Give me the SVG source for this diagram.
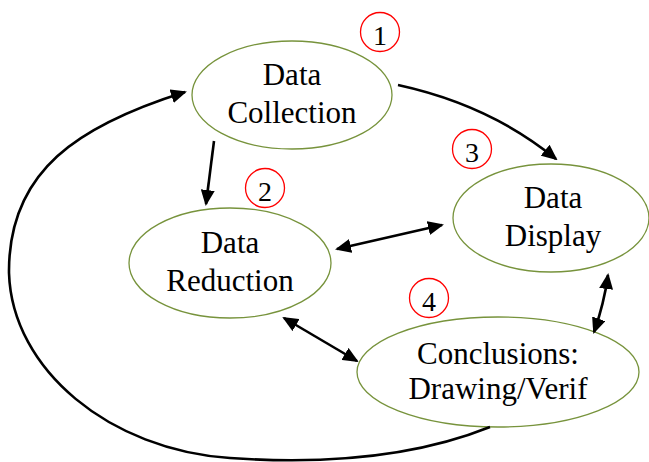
<svg xmlns="http://www.w3.org/2000/svg" width="649" height="462" viewBox="0 0 649 462">
<style>
.node ellipse{fill:#ffffff;stroke:#77933C;stroke-width:1.3}
.lbl{font-family:"Liberation Serif","Times New Roman",serif;font-size:31px;fill:#000;text-anchor:middle}
.num circle{fill:none;stroke:#FF0000;stroke-width:1.3}
.num text{font-family:"Liberation Serif","Times New Roman",serif;font-size:28px;fill:#000;text-anchor:middle}
.conn path{fill:none;stroke:#000;stroke-width:2.6}
</style>
<defs>
<marker id="ah" markerUnits="userSpaceOnUse" markerWidth="16" markerHeight="14" viewBox="0 0 16 14" refX="14" refY="7" orient="auto-start-reverse">
<path d="M0,0 L16,7 L0,14 z" fill="#000"/>
</marker>
</defs>
<rect width="649" height="462" fill="#ffffff"/>
<g id="n1" class="node">
<ellipse cx="292" cy="95" rx="100" ry="54"/>
<text class="lbl" x="292" y="85">Data</text>
<text class="lbl" x="292" y="123">Collection</text>
</g>
<g id="n2" class="node">
<ellipse cx="230" cy="263" rx="101" ry="55"/>
<text class="lbl" x="230" y="253">Data</text>
<text class="lbl" x="230" y="291">Reduction</text>
</g>
<g id="n3" class="node">
<ellipse cx="551" cy="218" rx="98" ry="54"/>
<text class="lbl" x="553" y="208">Data</text>
<text class="lbl" x="553" y="246">Display</text>
</g>
<g id="n4" class="node">
<ellipse cx="498" cy="372" rx="141" ry="55"/>
<text class="lbl" x="498" y="364">Conclusions:</text>
<text class="lbl" x="498" y="399">Drawing/Verif</text>
</g>
<g id="b1" class="num"><circle cx="380" cy="32" r="19.5"/><text x="380" y="45">1</text></g>
<g id="b2" class="num"><circle cx="265" cy="188" r="19.5"/><text x="265" y="201">2</text></g>
<g id="b3" class="num"><circle cx="472" cy="149" r="19.5"/><text x="472" y="162">3</text></g>
<g id="b4" class="num"><circle cx="429" cy="298" r="19.5"/><text x="429" y="311">4</text></g>
<g id="connectors" class="conn">
<path d="M398,85 Q490,105 556,159" marker-end="url(#ah)"/>
<path d="M214,141 L206,204" marker-end="url(#ah)"/>
<path d="M337,249 L442,225" marker-start="url(#ah)" marker-end="url(#ah)"/>
<path d="M284,318 L357,361" marker-start="url(#ah)" marker-end="url(#ah)"/>
<path d="M608,275 Q604,304 594,332" marker-start="url(#ah)" marker-end="url(#ah)"/>
<path d="M490,427 C420,455 330,465 230,458 C110,450 12,370 9,273 C8,170 80,125 185,92" marker-end="url(#ah)"/>
</g>
</svg>
